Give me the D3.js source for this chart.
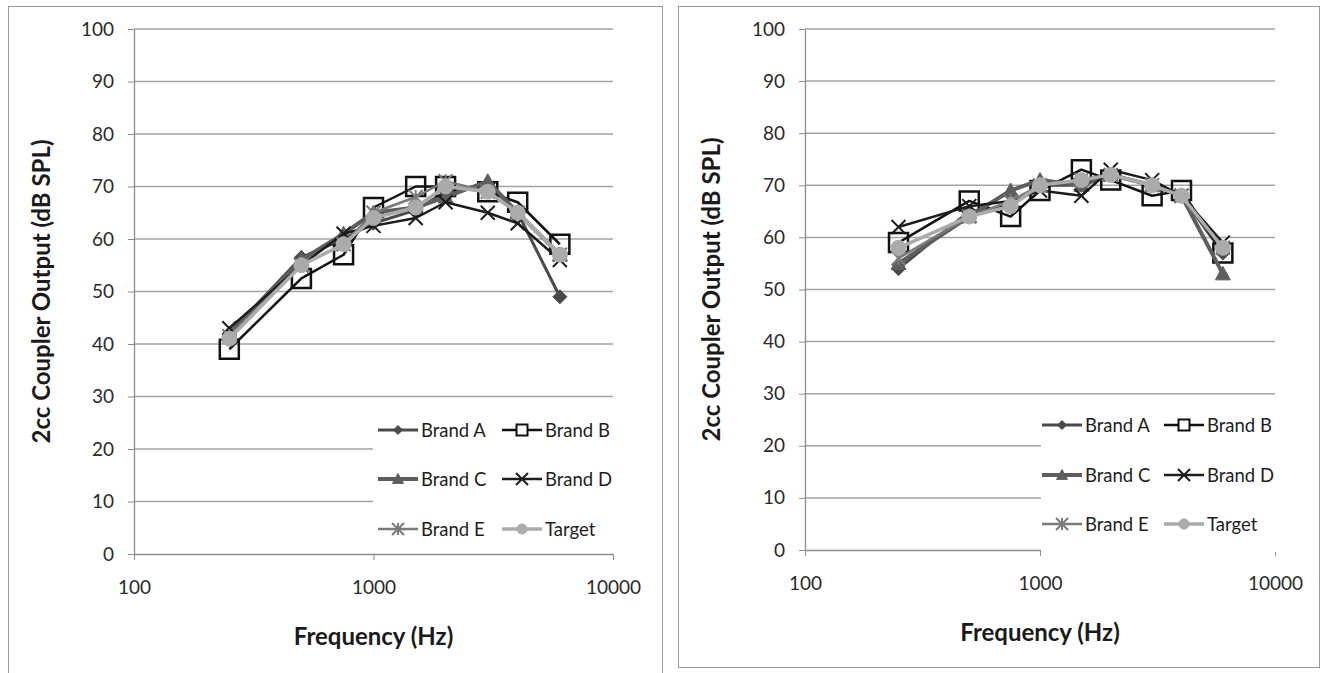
<!DOCTYPE html>
<html lang="en">
<head>
  <meta charset="UTF-8">
  <title>2cc Coupler Output by Frequency</title>
  <style>
    body { margin: 0; background: #fff; }
    text { font-family: Lato, "Open Sans", sans-serif; fill: #1a1a1a; }
    .tick text { font-size: 19px; fill: #2a2a2a; }
    .axis-title { font-size: 24px; font-weight: bold; }
    .legend text { font-size: 18.5px; fill: #1e1e1e; }
  </style>
</head>
<body>
<div id="chart"></div>
<script src="https://d3js.org/d3.v7.min.js"></script>
<script>
  // frequencies (Hz)
  const freqs = [250, 500, 750, 1000, 1500, 2000, 3000, 4000, 6000];
  const seriesNames = ["Brand A", "Brand B", "Brand C", "Brand D", "Brand E", "Target"];
  const yTicks = [0, 10, 20, 30, 40, 50, 60, 70, 80, 90, 100];
  const xTicks = [100, 1000, 10000];

  // left panel values (dB SPL)
  const leftA = [42, 56.5, 60, 63, 65.5, 69, 70.5, 65, 49];
  const leftB = [39, 52.5, 57, 66, 70, 70, 69, 67, 59];
  const leftC = [42, 56, 61, 65, 66, 68, 71, 65, 57];
  const leftD = [43, 55, 61, 62.5, 64, 67, 65, 63, 56];
  const leftE = [41.5, 55, 59, 65, 68, 71, 69, 65, 57];
  const leftT = [41, 55, 59, 64, 66, 70, 69, 65, 57];

  // right panel values (dB SPL)
  const rightA = [54, 65, 66, 70, 70, 72, 70, 68, 57];
  const rightB = [59, 67, 64, 69, 73, 71, 68, 69, 57];
  const rightC = [55, 64, 69, 71, 70, 72, 70, 68, 53];
  const rightD = [62, 66, 67, 69, 68, 73, 71, 68, 59];
  const rightE = [56, 64, 67, 70, 71, 72, 70, 68, 58];
  const rightT = [58, 64, 66, 70, 71, 72, 70, 68, 58];

  // look of each series
  const styles = {
    "Brand A": {stroke: "#4a4a4a", width: 3, marker: "diamond", fill: "#4a4a4a"},
    "Brand B": {stroke: "#111", width: 2.5, marker: "square", fill: "none"},
    "Brand C": {stroke: "#5e5e5e", width: 4, marker: "triangle", fill: "#5e5e5e"},
    "Brand D": {stroke: "#1c1c1c", width: 2.5, marker: "times", fill: "none"},
    "Brand E": {stroke: "#7a7a7a", width: 2.5, marker: "asterisk", fill: "none"},
    "Target":  {stroke: "#ababab", width: 3.5, marker: "circle", fill: "#ababab"}
  };

  const w = 1323, h = 673;
  const svg = d3.select("#chart").append("svg")
      .attr("width", w)
      .attr("height", h);

  function markerPath(type, s) {
    const r = s / 2;
    switch (type) {
      case "diamond": return `M0,${-r}L${r},0L0,${r}L${-r},0Z`;
      case "square": return `M${-r},${-r}H${r}V${r}H${-r}Z`;
      case "triangle": return `M0,${-r}L${r},${r * 0.8}L${-r},${r * 0.8}Z`;
      case "times": return `M${-r},${-r}L${r},${r}M${r},${-r}L${-r},${r}`;
      case "asterisk": return `M${-r},${-r}L${r},${r}M${r},${-r}L${-r},${r}M0,${-r}V${r}`;
      case "circle": return d3.arc()({innerRadius: 0, outerRadius: r, startAngle: 0, endAngle: 2 * Math.PI});
    }
  }

  const plotSize = {diamond: 14, square: 19, triangle: 15, times: 14, asterisk: 14, circle: 15};
  const legendSize = {diamond: 9, square: 11, triangle: 11, times: 12, asterisk: 12, circle: 10};

  function drawPanel(p) {
    const g = svg.append("g");

    // panel border
    g.append("rect")
        .attr("x", p.box[0] + 0.5).attr("y", p.box[1] + 0.5)
        .attr("width", p.box[2]).attr("height", p.box[3])
        .attr("fill", "#fff").attr("stroke", "#9a9a9a");

    const x = d3.scaleLog().domain([100, 10000]).range(p.xr);
    const y = d3.scaleLinear().domain([0, 100]).range(p.yr);

    // gridlines
    g.append("g").selectAll("line")
        .data(yTicks.filter(d => d > 0))
        .enter().append("line")
        .attr("x1", p.xr[0]).attr("x2", p.xr[1])
        .attr("y1", d => y(d)).attr("y2", d => y(d))
        .attr("stroke", "#a3a3a3").attr("stroke-width", 1.5);

    // axes
    const yAxis = g.append("g")
        .attr("transform", `translate(${p.xr[0]},0)`)
        .call(d3.axisLeft(y).tickValues(yTicks).tickSize(6).tickPadding(14).tickSizeOuter(0));
    const xAxis = g.append("g")
        .attr("transform", `translate(0,${p.yr[0]})`)
        .call(d3.axisBottom(x).tickValues(xTicks).tickFormat(d3.format("d")).tickSize(6).tickPadding(21).tickSizeOuter(0));
    [yAxis, xAxis].forEach(a => {
      a.select(".domain").attr("stroke", "#8c8c8c").attr("stroke-width", 1.3);
      a.selectAll(".tick line").attr("stroke", "#8c8c8c");
    });

    // axis titles
    g.append("text").attr("class", "axis-title")
        .attr("x", (p.xr[0] + p.xr[1]) / 2).attr("y", p.yr[0] + 91)
        .attr("text-anchor", "middle")
        .text("Frequency (Hz)");
    g.append("text").attr("class", "axis-title")
        .attr("transform", `translate(${p.ylabX},${(p.yr[0] + p.yr[1]) / 2}) rotate(-90)`)
        .attr("text-anchor", "middle")
        .text("2cc Coupler Output (dB SPL)");

    // series
    const line = d3.line().x(d => x(d[0])).y(d => y(d[1]));
    seriesNames.forEach((name, i) => {
      const st = styles[name];
      const pts = freqs.map((f, j) => [f, p.values[i][j]]);
      g.append("path")
          .datum(pts)
          .attr("d", line)
          .attr("fill", "none")
          .attr("stroke", st.stroke)
          .attr("stroke-width", st.width)
          .attr("stroke-linejoin", "round");
      g.append("g").selectAll("path")
          .data(pts)
          .enter().append("path")
          .attr("transform", d => `translate(${x(d[0])},${y(d[1])})`)
          .attr("d", markerPath(st.marker, plotSize[st.marker]))
          .attr("fill", st.marker === "square" ? "none" : st.fill)
          .attr("stroke", st.marker === "square" ? "#111" : st.stroke)
          .attr("stroke-width", st.marker === "square" ? 2.5 : (st.fill === "none" ? 2 : 1));
    });

    // legend
    const lg = g.append("g").attr("class", "legend");
    lg.append("rect")
        .attr("x", p.legend.x).attr("y", p.legend.y)
        .attr("width", p.legend.w).attr("height", p.legend.h)
        .attr("fill", "#fff");
    seriesNames.forEach((name, i) => {
      const st = styles[name];
      const lx = p.legend.cols[i % 2];
      const ly = p.legend.rows[Math.floor(i / 2)];
      lg.append("line")
          .attr("x1", lx).attr("x2", lx + 40)
          .attr("y1", ly).attr("y2", ly)
          .attr("stroke", st.stroke).attr("stroke-width", st.width);
      lg.append("path")
          .attr("transform", `translate(${lx + 20},${ly})`)
          .attr("d", markerPath(st.marker, legendSize[st.marker]))
          .attr("fill", st.marker === "square" ? "#fff" : st.fill)
          .attr("stroke", st.marker === "square" ? "#111" : st.stroke)
          .attr("stroke-width", st.fill === "none" ? 2 : 1);
      lg.append("text")
          .attr("x", lx + 43).attr("y", ly)
          .attr("dy", "0.36em")
          .text(name);
    });
  }

  drawPanel({
    box: [8, 6, 654, 700],
    xr: [134, 613], yr: [554, 29], ylabX: 50,
    values: [leftA, leftB, leftC, leftD, leftE, leftT],
    legend: {x: 373, y: 408, w: 255, h: 140, cols: [378, 502], rows: [430, 479, 529]}
  });

  drawPanel({
    box: [678, 6, 641, 661],
    xr: [805, 1275], yr: [550, 29], ylabX: 720,
    values: [rightA, rightB, rightC, rightD, rightE, rightT],
    legend: {x: 1041, y: 400, w: 255, h: 152, cols: [1042, 1164], rows: [425, 475, 524]}
  });
</script>
</body>
</html>
